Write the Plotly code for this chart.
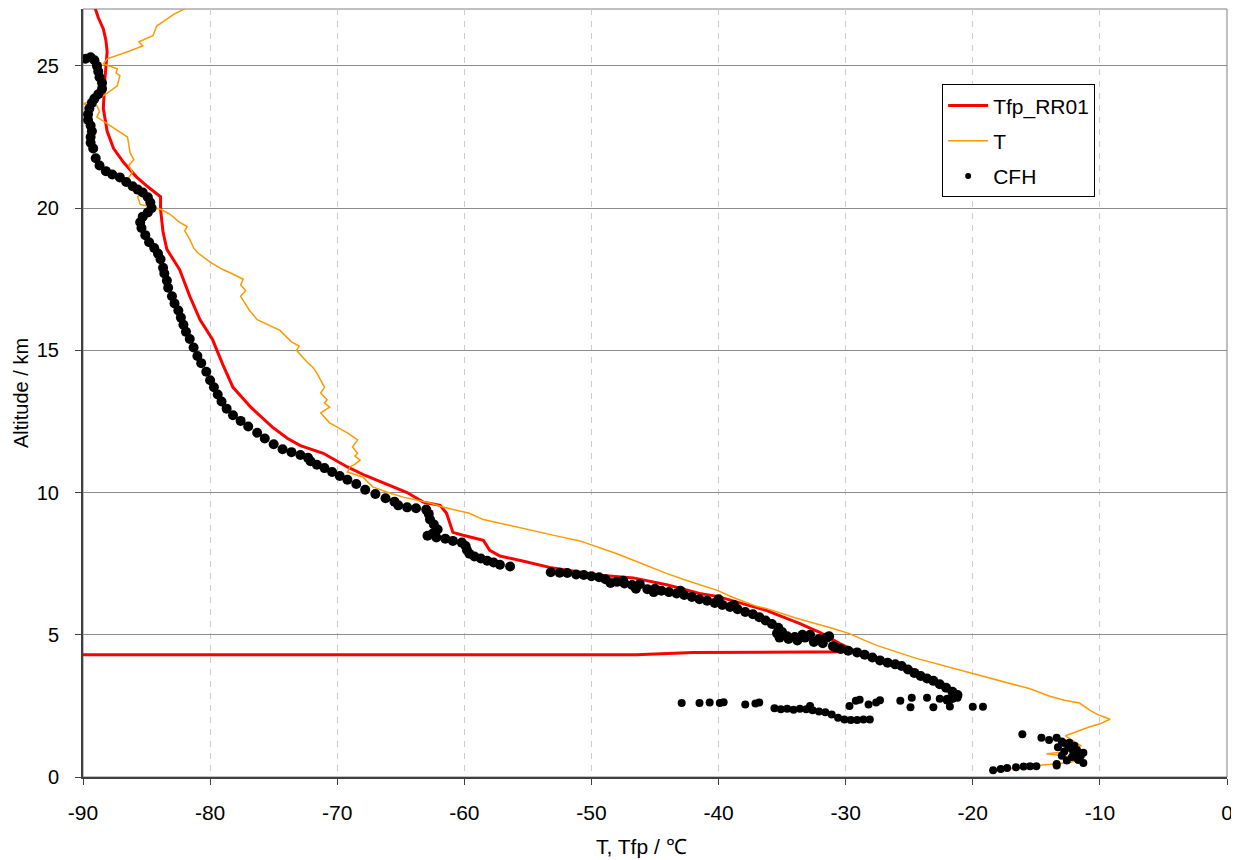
import plotly.graph_objects as go

# ---- Tfp_RR01 (red) ----
tfp_T = [-89.1, -88.8, -88.4, -88.2, -88.1, -88.2, -88.3, -88.4, -88.1, -87.6, -86.8, -85.8, -84.9, -83.9,
         -83.9, -83.7, -83.4, -82.4, -81.6, -80.8, -79.8, -79.0, -78.2, -76.8, -75.1, -73.9, -72.9, -71.1,
         -69.2, -67.8, -66.9, -64.5, -63.2, -61.9, -61.4, -60.9, -60.1, -58.5, -58.0, -57.2, -55.5, -53.3,
         -49.3, -46.7, -44.0, -41.5, -40.1, -36.2, -33.6, -32.0, -30.5, -29.1, -42.0, -46.5, -90.0]
tfp_z = [27.1, 26.7, 26.3, 25.9, 25.5, 25.0, 24.4, 23.5, 22.7, 22.1, 21.6, 21.1, 20.75, 20.4,
         19.96, 19.15, 18.55, 17.84, 16.9, 16.08, 15.37, 14.5, 13.7, 13.0, 12.3, 11.9, 11.65, 11.38,
         10.9, 10.6, 10.44, 10.0, 9.66, 9.55, 9.27, 8.6, 8.5, 8.32, 7.97, 7.77, 7.6, 7.37,
         7.09, 7.0, 6.75, 6.45, 6.35, 5.85, 5.39, 5.08, 4.7, 4.4, 4.38, 4.3, 4.3]

# ---- T (orange) ----
t_T = [-18.5, -16.5, -14.5, -12.5, -11.6, -12.5, -14.2, -13.2, -12.0, -11.5, -12.2, -12.7, -11.8, -10.9,
       -10.0, -9.6, -9.2, -9.6, -10.2, -10.8, -11.6, -12.8, -14.0, -15.5, -17.0, -18.5, -20.2, -21.5,
       -23.1, -24.5, -26.0, -27.5, -28.6, -29.7, -31.0, -32.5, -34.0, -35.2, -36.2, -37.0, -37.8, -38.9,
       -40.1, -41.5, -42.8, -44.1, -45.4, -46.7, -48.0, -49.3, -50.9, -52.5, -54.8, -56.5, -58.5, -59.6,
       -61.7, -62.7, -64.8, -66.0, -67.2, -68.0, -69.2, -69.0, -68.6, -68.2, -68.6, -68.4, -68.8, -68.4,
       -69.2, -70.0, -70.6, -71.3, -70.6, -71.0, -70.8, -71.3, -71.0, -71.6, -71.9, -72.4, -73.2, -73.0,
       -73.6, -74.5, -75.0, -75.5, -76.3, -76.6, -76.9, -77.6, -77.2, -77.6, -77.4, -78.3, -79.0, -80.0,
       -81.0, -81.3, -81.6, -82.0, -81.8, -82.4, -83.2, -83.9, -84.8, -85.5, -85.7, -85.4, -86.1, -86.5,
       -86.1, -86.4, -86.0, -86.3, -86.5, -87.5, -88.9, -88.7, -88.9, -90.0,
       -88.4, -87.3, -87.1, -87.4, -87.3, -88.4, -88.1, -86.5, -85.3, -85.6, -84.5, -84.2, -82.9, -81.6]
t_z = [0.25, 0.32, 0.42, 0.5, 0.6, 0.72, 0.82, 0.86, 0.95, 1.1, 1.3, 1.45, 1.6, 1.75,
       1.87, 1.95, 2.03, 2.1, 2.2, 2.35, 2.6, 2.7, 2.85, 3.1, 3.28, 3.45, 3.67, 3.8,
       4.0, 4.18, 4.4, 4.62, 4.82, 5.04, 5.22, 5.4, 5.6, 5.78, 5.92, 6.0, 6.14, 6.32,
       6.56, 6.75, 6.95, 7.16, 7.38, 7.62, 7.85, 8.05, 8.3, 8.45, 8.67, 8.85, 9.05, 9.27,
       9.49, 9.63, 9.84, 10.0, 10.2, 10.55, 10.72, 10.9, 11.0, 11.14, 11.28, 11.38, 11.6, 11.85,
       12.1, 12.3, 12.45, 12.8, 13.0, 13.15, 13.26, 13.5, 13.7, 14.2, 14.4, 14.6, 15.0, 15.15,
       15.3, 15.7, 15.8, 15.9, 16.08, 16.25, 16.4, 16.9, 17.1, 17.3, 17.5, 17.7, 17.84, 18.1,
       18.44, 18.6, 18.9, 19.2, 19.35, 19.5, 19.8, 19.96, 20.05, 20.13, 20.4, 20.55, 20.66, 21.0,
       21.26, 21.5, 21.7, 21.95, 22.5, 22.8, 23.2, 23.4, 23.6, 23.66,
       23.95, 24.3, 24.66, 24.75, 24.9, 25.07, 25.25, 25.5, 25.7, 25.85, 26.06, 26.4, 26.8, 27.1]

# ---- CFH (black dots): main profile ----
cfh_T = [
    -89.8, -89.4, -89.1, -88.9, -88.8, -88.7, -88.5, -88.5, -88.8, -89.1, -89.3, -89.5, -89.6, -89.6,
    -89.4, -89.3, -89.4, -89.4, -89.2, -89.0, -88.7, -88.2, -87.7, -87.1, -86.6, -86.1, -85.7, -85.3,
    -84.9, -84.7, -84.6, -84.9, -85.3, -85.5, -85.4, -85.1, -84.8, -84.4, -84.1, -83.9, -83.7, -83.6,
    -83.4, -83.3, -83.0, -82.8, -82.5, -82.3, -82.1, -81.9, -81.6, -81.3, -81.0, -80.7, -80.3, -80.0,
    -79.7, -79.4, -79.1, -78.7, -78.2, -77.6, -77.0, -76.3, -75.7, -75.0, -74.3, -73.6, -72.9, -72.3,
    -72.1, -71.6, -71.0, -70.4, -69.8, -69.2, -68.5, -67.8, -67.0, -66.2, -65.5, -65.2, -64.5, -63.8,
    -63.0, -62.8, -62.7, -62.4, -62.1, -62.5, -62.9, -62.2, -61.5, -60.9, -60.2, -59.9, -59.8, -59.6,
    -59.2, -58.7, -58.2, -57.7, -57.2, -56.4,
    -53.2, -52.5, -51.9, -51.2, -50.6, -50.0, -49.4, -48.9, -48.5, -48.0, -47.4, -46.8, -46.2, -45.6,
    -45.1, -44.5, -43.9, -43.3, -42.7, -42.1, -41.5, -40.9, -40.3, -39.7, -39.1, -38.5, -37.9, -37.3,
    -36.8, -36.3, -35.8, -35.3, -35.4, -35.2, -34.6, -34.0, -33.4, -32.8, -32.1, -31.5, -31.0, -30.4,
    -29.8, -29.1, -28.5, -27.9, -27.3, -26.7, -26.1, -25.6, -25.1, -24.6, -24.1, -23.6, -23.1, -22.6,
    -22.1, -21.6, -21.2, -21.6, -22.0,
    -35.0, -34.5, -33.8, -33.2, -32.5, -31.8, -31.3, -30.8, -47.5, -46.5, -45.0, -43.0, -40.0, -38.8,
]
cfh_z = [
    25.25, 25.3, 25.2, 25.0, 24.8, 24.6, 24.4, 24.2, 24.0, 23.85, 23.7, 23.5, 23.3, 23.1,
    22.9, 22.7, 22.5, 22.3, 22.1, 21.75, 21.5, 21.3, 21.18, 21.08, 20.92, 20.77, 20.65, 20.55,
    20.38, 20.2, 20.0, 19.85, 19.7, 19.5, 19.3, 19.05, 18.8, 18.6, 18.4, 18.2, 17.9, 17.7,
    17.45, 17.2, 16.9, 16.65, 16.4, 16.15, 15.9, 15.65, 15.4, 15.1, 14.8, 14.55, 14.25, 13.95,
    13.7, 13.45, 13.2, 12.95, 12.72, 12.52, 12.32, 12.1, 11.9, 11.7, 11.52, 11.42, 11.32, 11.22,
    11.1, 10.98, 10.86, 10.72, 10.58, 10.45, 10.3, 10.1, 9.95, 9.8, 9.68, 9.55, 9.48, 9.45,
    9.4, 9.25, 9.05, 8.88, 8.7, 8.55, 8.48, 8.42, 8.38, 8.3, 8.24, 8.12, 7.98, 7.85,
    7.75, 7.68, 7.6, 7.54, 7.46, 7.4,
    7.2, 7.18, 7.17, 7.12, 7.1, 7.06, 7.02, 6.95, 6.82, 6.86, 6.8, 6.75, 6.78, 6.6,
    6.5, 6.55, 6.5, 6.45, 6.4, 6.33, 6.25, 6.2, 6.12, 6.05, 5.98, 5.9, 5.8, 5.72,
    5.62, 5.5, 5.38, 5.25, 5.05, 4.9, 4.95, 4.92, 5.0, 5.0, 4.85, 4.9, 4.6, 4.5,
    4.44, 4.38, 4.3, 4.2, 4.1, 4.02, 3.96, 3.9, 3.78, 3.66, 3.55, 3.46, 3.38, 3.26,
    3.14, 3.0, 2.88, 2.78, 2.72,
    5.1, 4.85, 4.8, 4.9, 4.75, 4.7, 4.95, 4.55, 6.9, 6.62, 6.62, 6.55, 6.25, 6.05,
]

# ---- CFH: scattered points (2-2.8 km) and near-surface cluster ----
cfh2_T = [
    -42.9, -41.5, -40.7, -39.9, -39.6, -37.9, -37.1, -36.8, -35.6, -35.1, -34.6, -34.1, -33.6, -33.1,
    -32.8, -32.6, -32.1, -31.6, -31.1, -30.6, -30.1, -29.6, -29.1, -28.6, -28.1, -29.7, -29.2, -28.9,
    -28.2, -27.6, -27.3, -25.7, -24.8, -24.9, -23.6, -23.1, -22.6, -21.8, -21.2, -20.0, -19.2,
    -16.1, -14.6, -14.0, -13.4, -13.0, -12.6, -12.3, -11.8, -11.3, -12.0, -12.8, -13.3, -11.8, -12.6,
    -13.4, -11.3, -11.7, -12.2, -12.0, -13.0, -15.0, -15.5, -16.0, -16.6, -17.3, -17.8, -18.4, -13.4,
    -12.4, -11.5, -12.9, -12.1,
]
cfh2_z = [
    2.6, 2.6, 2.62, 2.6, 2.63, 2.55, 2.58, 2.62, 2.42, 2.38, 2.4, 2.36, 2.4, 2.38,
    2.5, 2.35, 2.3, 2.28, 2.2, 2.08, 2.02, 2.0, 2.0, 2.02, 2.02, 2.5, 2.68, 2.72,
    2.55, 2.62, 2.7, 2.68, 2.79, 2.45, 2.79, 2.45, 2.75, 2.48, 2.79, 2.47, 2.47,
    1.5, 1.38, 1.3, 1.38, 1.25, 1.15, 1.02, 0.95, 0.85, 0.8, 0.9, 1.05, 0.67, 0.58,
    0.46, 0.49, 0.6, 0.7, 1.1, 0.75, 0.38, 0.38, 0.37, 0.34, 0.32, 0.28, 0.24, 0.4,
    1.2, 0.75, 1.2, 0.9,
]

x_ticks = [-90, -80, -70, -60, -50, -40, -30, -20, -10, 0]
y_ticks = [0, 5, 10, 15, 20, 25]

FONT = "Liberation Sans, Arial, sans-serif"

fig = go.Figure()
fig.add_trace(go.Scatter(x=tfp_T, y=tfp_z, mode="lines", name="Tfp_RR01", legendgroup="a",
                         line=dict(color="#FF0000", width=3)))
fig.add_trace(go.Scatter(x=t_T, y=t_z, mode="lines", name="T", legendgroup="b",
                         line=dict(color="#FF9900", width=1.5)))
fig.add_trace(go.Scatter(x=cfh_T, y=cfh_z, mode="markers", name="CFH", showlegend=False,
                         marker=dict(color="black", size=10)))
fig.add_trace(go.Scatter(x=cfh2_T, y=cfh2_z, mode="markers", name="CFH", showlegend=False,
                         marker=dict(color="black", size=8)))
fig.add_trace(go.Scatter(x=[None], y=[None], mode="markers", name="CFH", legendgroup="c",
                         marker=dict(color="black", size=6)))

fig.update_layout(
    width=1231, height=853,
    margin=dict(l=75, r=12, t=1, b=84),
    paper_bgcolor="white", plot_bgcolor="white",
    font=dict(family=FONT, color="black", size=20),
    showlegend=True,
    legend=dict(x=0.751, y=0.902, xanchor="left", yanchor="top",
                bgcolor="white", bordercolor="black", borderwidth=1,
                font=dict(family=FONT, size=21), itemwidth=40, tracegroupgap=5),
    shapes=[dict(type="rect", xref="paper", yref="paper", x0=0, y0=0, x1=1, y1=1,
                 line=dict(color="#808080", width=1), layer="below")],
    annotations=[
        dict(text="T, Tfp / ℃", xref="paper", yref="paper", x=0.488, y=0, yanchor="middle",
             yshift=-69, showarrow=False, font=dict(size=21)),
        dict(text="Altitude / km", xref="paper", yref="paper", x=0, y=0.5, xanchor="center",
             xshift=-62, textangle=-90, showarrow=False, font=dict(size=20)),
    ],
)
fig.update_xaxes(range=[-90, 0], tickvals=x_ticks, ticktext=[str(v) for v in x_ticks],
                 showgrid=True, gridcolor="#CCCCCC", griddash="6px,6px", gridwidth=1,
                 showline=True, linecolor="#404040", linewidth=2,
                 ticks="outside", ticklen=6, tickcolor="#404040",
                 zeroline=False, tickfont=dict(size=21), ticklabelstandoff=10)
fig.update_yaxes(range=[0, 27], tickvals=y_ticks, ticktext=[str(v) for v in y_ticks],
                 showgrid=True, gridcolor="#8C8C8C", gridwidth=1,
                 showline=True, linecolor="#404040", linewidth=2,
                 ticks="outside", ticklen=6, tickcolor="#404040",
                 zeroline=False, tickfont=dict(size=20), ticklabelstandoff=12)

fig.write_html("out.html")
